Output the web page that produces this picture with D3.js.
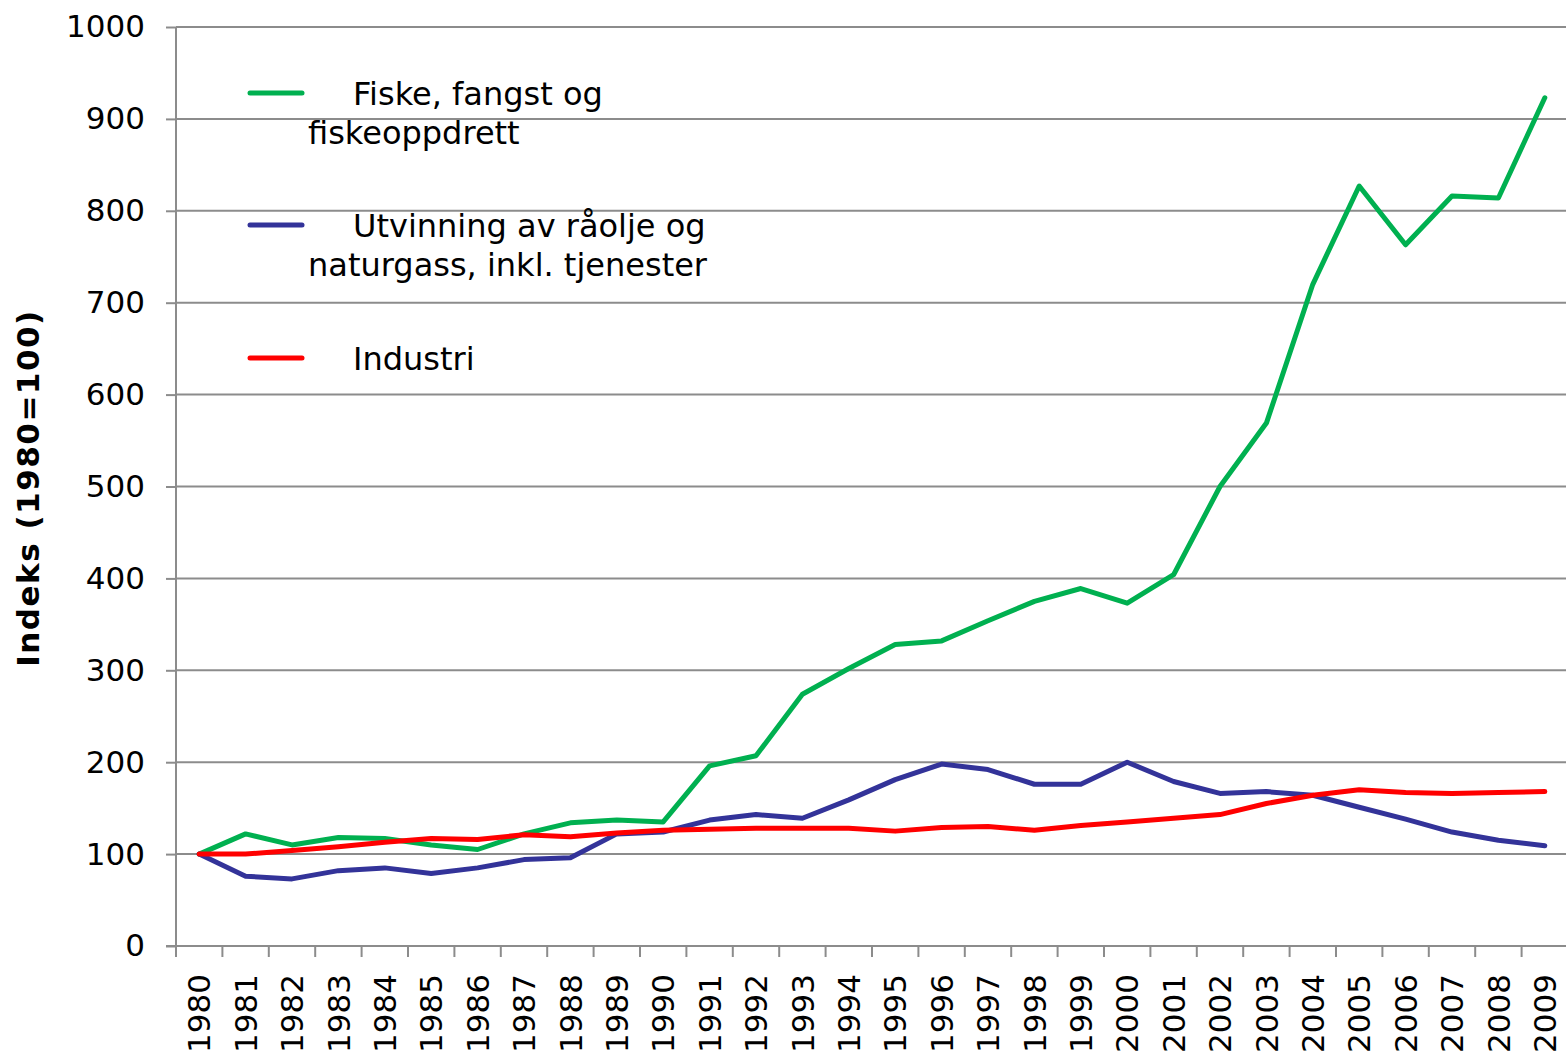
<!DOCTYPE html>
<html>
<head>
<meta charset="utf-8">
<script src="https://cdn.jsdelivr.net/npm/d3@7"></script>
<style>
	html, body { margin: 0; padding: 0; background: #fff; }
	svg { display: block; font-family: "DejaVu Sans", Verdana, sans-serif; }
</style>
</head>
<body>
<div id="chart"></div>
<script>
// Years on the x axis
const years = d3.range(1980, 2010).map(String);

// Fiske, fangst og fiskeoppdrett
const fiske = [100, 122, 110, 118, 117, 110, 105, 122, 134, 137, 135, 196, 207, 274, 302, 328, 332, 354, 375, 389, 373, 404, 500, 569, 720, 827, 763, 816, 814, 923];

// Utvinning av råolje og naturgass, inkl. tjenester
const utvinning = [100, 76, 73, 82, 85, 79, 85, 94, 96, 122, 124, 137, 143, 139, 159, 181, 198, 192, 176, 176, 200, 179, 166, 168, 164, 151, 138, 124, 115, 109];

// Industri
const industri = [100, 100, 104, 108, 113, 117, 116, 121, 119, 123, 126, 127, 128, 128, 128, 125, 129, 130, 126, 131, 135, 139, 143, 155, 164, 170, 167, 166, 167, 168];

const yTicks = [0, 100, 200, 300, 400, 500, 600, 700, 800, 900, 1000];

const seriesNames = [
	["Fiske, fangst og", "fiskeoppdrett"],
	["Utvinning av råolje og", "naturgass, inkl. tjenester"],
	["Industri"],
];
const seriesColors = ["#00B050", "#333399", "#FF0000"];

const WIDTH = 1566;
const HEIGHT = 1058;
const MARGIN = { top: 27, right: -2, bottom: 112, left: 176 };

const svg = d3
	.select("#chart")
	.append("svg")
	.attr("width", WIDTH)
	.attr("height", HEIGHT);

const x = d3
	.scaleBand()
	.domain(years)
	.range([MARGIN.left, WIDTH - MARGIN.right]);

const y = d3
	.scaleLinear()
	.domain([0, 1000])
	.range([HEIGHT - MARGIN.bottom, MARGIN.top]);

const AXIS_COLOR = "#8c8c8c";

// Gridlines
svg.append("g")
	.selectAll("line")
	.data(yTicks.filter((d) => d > 0))
	.enter()
	.append("line")
	.attr("x1", MARGIN.left)
	.attr("x2", WIDTH - MARGIN.right)
	.attr("y1", (d) => y(d))
	.attr("y2", (d) => y(d))
	.attr("stroke", AXIS_COLOR)
	.attr("stroke-width", 2);

// Y axis
const yAxis = svg.append("g")
	.attr("transform", `translate(${MARGIN.left}, 0)`)
	.call(
		d3.axisLeft(y)
			.tickValues(yTicks)
			.tickFormat(d3.format("d"))
			.tickSize(10)
			.tickPadding(21),
	);
yAxis.selectAll("line").attr("stroke", AXIS_COLOR).attr("stroke-width", 2);
yAxis.select(".domain").attr("stroke", AXIS_COLOR).attr("stroke-width", 2)
	.attr("d", `M0,${y(1000)}V${y(0)}`);
yAxis.selectAll("text")
	.style("font-size", "31px")
	.style("font-family", "DejaVu Sans")
	.attr("fill", "#000");

// X axis, ticks at band edges
const xAxisG = svg.append("g")
	.attr("transform", `translate(0, ${y(0)})`);
xAxisG.append("line")
	.attr("x1", MARGIN.left - 10)
	.attr("x2", WIDTH - MARGIN.right)
	.attr("stroke", AXIS_COLOR)
	.attr("stroke-width", 2);
xAxisG.selectAll("line.tick")
	.data(years.concat(["end"]))
	.enter()
	.append("line")
	.attr("class", "tick")
	.attr("x1", (d, i) => (i < years.length ? x(d) : x.range()[1]))
	.attr("x2", (d, i) => (i < years.length ? x(d) : x.range()[1]))
	.attr("y1", 0)
	.attr("y2", 11)
	.attr("stroke", AXIS_COLOR)
	.attr("stroke-width", 2);
xAxisG.selectAll("text")
	.data(years)
	.enter()
	.append("text")
	.attr("transform", (d) => `translate(${x(d) + x.bandwidth() / 2}, 28) rotate(-90)`)
	.attr("dy", "0.36em")
	.attr("text-anchor", "end")
	.style("font-size", "31px")
	.text((d) => d);

// Y axis title
svg.append("text")
	.attr("transform", `translate(28, 488) rotate(-90)`)
	.attr("text-anchor", "middle")
	.attr("dy", "0.36em")
	.style("font-size", "31px")
	.style("font-weight", "bold")
	.style("letter-spacing", "1.5px")
	.text("Indeks (1980=100)");

// Lines
const line = d3
	.line()
	.x((d, i) => x(years[i]) + x.bandwidth() / 2)
	.y((d) => y(d));

[fiske, utvinning, industri].forEach((s, i) => {
	svg.append("path")
		.datum(s)
		.attr("fill", "none")
		.attr("stroke", seriesColors[i])
		.attr("stroke-width", 5)
		.attr("stroke-linejoin", "round")
		.attr("stroke-linecap", "round")
		.attr("d", line);
});

// Legend
const legendY = [93, 225, 358];
const legend = svg.append("g");
seriesNames.forEach((lines, i) => {
	legend.append("line")
		.attr("x1", 250)
		.attr("x2", 302)
		.attr("y1", legendY[i])
		.attr("y2", legendY[i])
		.attr("stroke", seriesColors[i])
		.attr("stroke-width", 5)
		.attr("stroke-linecap", "round");
	lines.forEach((t, j) => {
		legend.append("text")
			.attr("x", j === 0 ? 353 : 308)
			.attr("y", legendY[i] + j * 39)
			.attr("dy", "0.36em")
			.style("font-size", "32px")
			.text(t);
	});
});
</script>
</body>
</html>
